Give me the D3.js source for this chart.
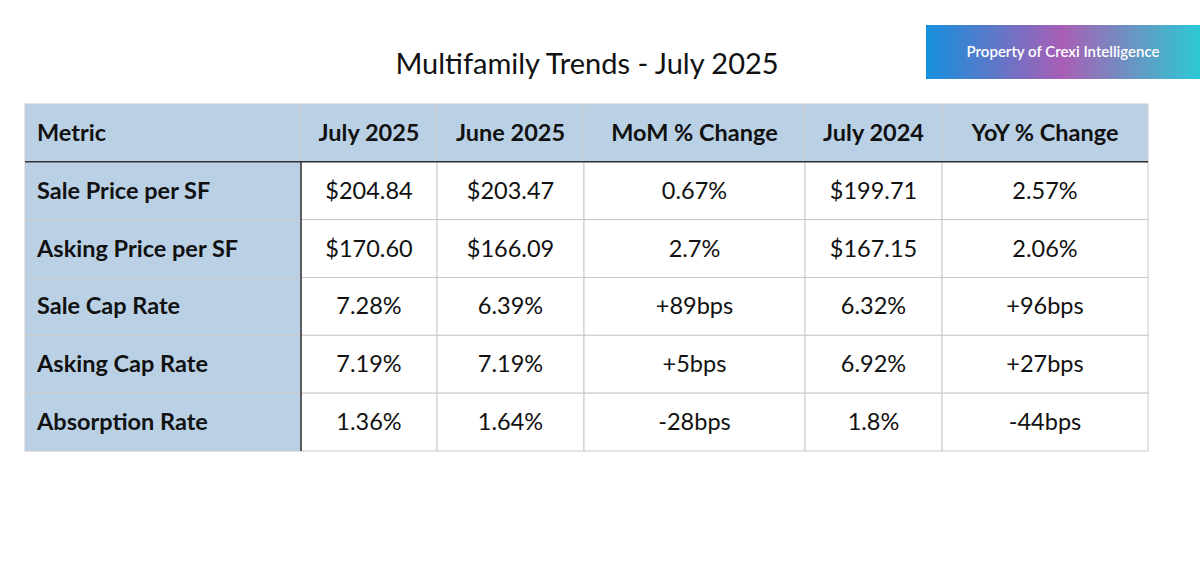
<!DOCTYPE html><html><head><meta charset="utf-8"><script src="https://cdn.jsdelivr.net/npm/d3@7"></script>
<style>body{margin:0;background:#fff}</style></head><body><svg id="c" width="1200" height="577"></svg>
<script>
const headers=["Metric","July 2025","June 2025","MoM % Change","July 2024","YoY % Change"];
const metrics=["Sale Price per SF","Asking Price per SF","Sale Cap Rate","Asking Cap Rate","Absorption Rate"];
const july2025=["$204.84","$170.60","7.28%","7.19%","1.36%"];
const june2025=["$203.47","$166.09","6.39%","7.19%","1.64%"];
const momChange=["0.67%","2.7%","+89bps","+5bps","-28bps"];
const july2024=["$199.71","$167.15","6.32%","6.92%","1.8%"];
const yoyChange=["2.57%","2.06%","+96bps","+27bps","-44bps"];
const cols=[metrics,july2025,june2025,momChange,july2024,yoyChange];
const colEdges=[25,301,437,584,805,942,1148];
const svg=d3.select("#c");
const F="Lato, 'Open Sans', sans-serif";
svg.append("text").attr("x",587).attr("y",74).attr("text-anchor","middle").attr("font-family",F).attr("font-size",29).attr("fill","#111").text("Multifamily Trends - July 2025");
const defs=svg.append("defs");
const g=defs.append("linearGradient").attr("id","gr");
[["0%","#1590dc"],["50%","#a85fb5"],["100%","#2cc9d3"]].forEach(s=>g.append("stop").attr("offset",s[0]).attr("stop-color",s[1]));
svg.append("rect").attr("x",926).attr("y",25).attr("width",274).attr("height",54).attr("fill","url(#gr)");
svg.append("text").attr("x",1063).attr("y",57).attr("text-anchor","middle").attr("font-family",F).attr("font-weight",600).attr("font-size",15).attr("fill","#fff").text("Property of Crexi Intelligence");
const y=d3.scaleBand().domain(d3.range(6)).range([104,451]);
const rowH=y.bandwidth();
for(let r=0;r<6;r++)for(let c=0;c<6;c++){
  const x0=colEdges[c],x1=colEdges[c+1],y0=y(r);
  const blue=r===0||c===0;
  svg.append("rect").attr("x",x0).attr("y",y0).attr("width",x1-x0).attr("height",rowH).attr("fill",blue?"#bad1e5":"#fff").attr("stroke","#c9c9c9").attr("stroke-width",1);
  const txt=r===0?headers[c]:cols[c][r-1];
  const left=c===0;
  svg.append("text").attr("x",left?x0+12:(x0+x1)/2).attr("y",y0+rowH/2+8).attr("text-anchor",left?"start":"middle")
   .attr("font-family",F).attr("font-size",23.5).attr("font-weight",(r===0||c===0)?700:400).attr("fill","#111").text(txt);
}
svg.append("line").attr("x1",25).attr("x2",1148).attr("y1",y(1)).attr("y2",y(1)).attr("stroke","#333").attr("stroke-width",1.5);
svg.append("line").attr("x1",301).attr("x2",301).attr("y1",y(1)).attr("y2",451).attr("stroke","#333").attr("stroke-width",1.5);
</script></body></html>
